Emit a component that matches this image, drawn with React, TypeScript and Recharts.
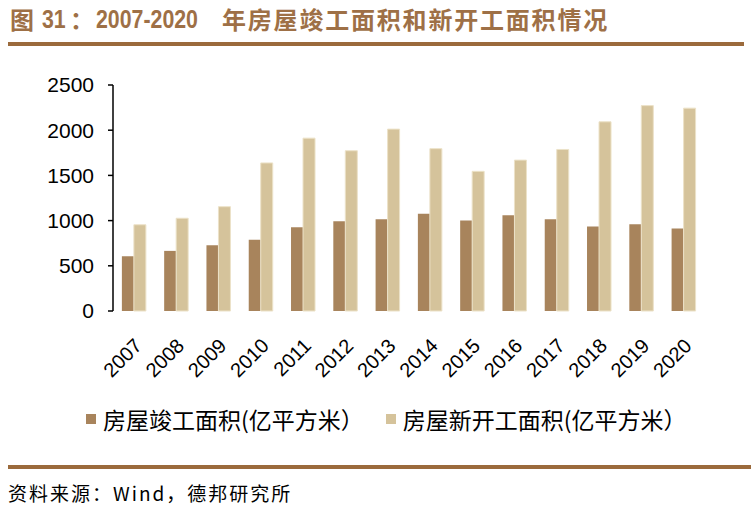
import React from 'react'
import { BarChart, Bar, XAxis, YAxis, Legend } from 'recharts'

const years = ['2007', '2008', '2009', '2010', '2011', '2012', '2013', '2014', '2015', '2016', '2017', '2018', '2019', '2020']
const completed = [606, 665, 726, 787, 926, 994, 1014, 1075, 1000, 1060, 1015, 936, 959, 912]
const started = [954, 1026, 1154, 1638, 1912, 1773, 2012, 1796, 1545, 1669, 1787, 2093, 2272, 2244]
const yTicks = [0, 500, 1000, 1500, 2000, 2500]
const bounds = [0, 1, 2, 3, 4, 5, 6, 7, 8, 9, 10, 11, 12, 13, 14]

const data = years.map((year, i) => ({ year, completed: completed[i], started: started[i], pos: i + 0.5 }))

const DARK = '#a8845c'
const LIGHT = '#d5c39b'
const BROWN = '#9b6a3c'
const TITLE = '#9e7046'

const YearTick = ({ x, y, payload }: any) => (
    <text
        x={x + 9}
        y={y + 28}
        transform={`rotate(-45 ${x + 9} ${y + 28})`}
        textAnchor="end"
        fontSize={20}
        fontFamily="'Liberation Sans', Arial, sans-serif"
        fill="#000"
    >
        {payload.value}
    </text>
)

const NoTick = () => <g />

const legendItems = [
    { label: '房屋竣工面积(亿平方米）', color: DARK },
    { label: '房屋新开工面积(亿平方米）', color: LIGHT },
]

const LegendBox = () => (
    <div style={{ display: 'flex', alignItems: 'center', fontFamily: "'Noto Sans CJK SC', sans-serif", fontSize: 23, color: '#000', lineHeight: '28px' }}>
        {legendItems.map((it, i) => (
            <div key={i} style={{ display: 'flex', alignItems: 'center', marginRight: 22 }}>
                <span style={{ width: 10, height: 10, background: it.color, display: 'inline-block', marginRight: 7 }} />
                <span>{it.label}</span>
            </div>
        ))}
    </div>
)

const cjk = "'Noto Sans CJK SC', sans-serif"
const latin = "'Liberation Sans', Arial, sans-serif"
const narrow = { position: 'absolute' as const, fontFamily: latin, fontSize: 26, transform: 'scaleX(0.82)', transformOrigin: 'left center' }

export default function App() {
    return (
        <div style={{ position: 'absolute', left: 0, top: 0, width: 751, height: 513, background: '#fff' }}>
            <div style={{ position: 'absolute', left: 0, top: 5, height: 28, width: 751, color: TITLE, fontWeight: 'bold', lineHeight: '28px', whiteSpace: 'nowrap' }}>
                <span style={{ position: 'absolute', left: 10, fontFamily: cjk, fontSize: 24 }}>图</span>
                <span style={{ ...narrow, left: 42 }}>31</span>
                <span style={{ position: 'absolute', left: 70, fontFamily: cjk, fontSize: 24 }}>：</span>
                <span style={{ ...narrow, left: 96 }}>2007-2020</span>
                <span style={{ position: 'absolute', left: 222, fontFamily: cjk, fontSize: 24, letterSpacing: 1.8 }}>年房屋竣工面积和新开工面积情况</span>
            </div>
            <div style={{ position: 'absolute', left: 8, top: 42, width: 736, height: 3.5, background: BROWN }} />

            <BarChart
                width={751}
                height={513}
                data={data}
                margin={{ top: 85, right: 46, left: 0, bottom: 132 }}
                barGap={0}
                barCategoryGap="21%"
            >
                <XAxis
                    xAxisId="b"
                    type="number"
                    dataKey="pos"
                    domain={[0, 14]}
                    ticks={bounds}
                    interval={0}
                    height={0}
                    tick={NoTick}
                    tickSize={-6}
                    axisLine={{ stroke: '#000', strokeWidth: 1.5 }}
                    tickLine={{ stroke: '#000', strokeWidth: 1.5 }}
                    allowDataOverflow
                />
                <XAxis dataKey="year" height={70} axisLine={false} tickLine={false} interval={0} tick={<YearTick />} />
                <YAxis
                    width={113}
                    domain={[0, 2500]}
                    ticks={yTicks}
                    interval={0}
                    tickSize={5}
                    tickMargin={14}
                    axisLine={{ stroke: '#000', strokeWidth: 1.5 }}
                    tickLine={{ stroke: '#000', strokeWidth: 1.5 }}
                    tick={{ fontSize: 21, fill: '#000', fontFamily: latin }}
                />
                <Legend
                    layout="horizontal"
                    verticalAlign="middle"
                    align="center"
                    content={<LegendBox />}
                    wrapperStyle={{ top: 405, left: 86, width: 665, height: 28 }}
                />
                <Bar dataKey="completed" fill={DARK} isAnimationActive={false} />
                <Bar dataKey="started" fill={LIGHT} stroke="#ece2c8" strokeWidth={1} isAnimationActive={false} />
            </BarChart>

            <div style={{ position: 'absolute', left: 8, top: 465, width: 743, height: 3.5, background: BROWN }} />
            <div
                style={{
                    position: 'absolute',
                    left: 8,
                    top: 480,
                    fontSize: 19,
                    letterSpacing: 2,
                    fontFamily: cjk,
                    color: '#000',
                    whiteSpace: 'nowrap',
                    lineHeight: '26px',
                }}
            >
                资料来源：Wind，德邦研究所
            </div>
        </div>
    )
}
